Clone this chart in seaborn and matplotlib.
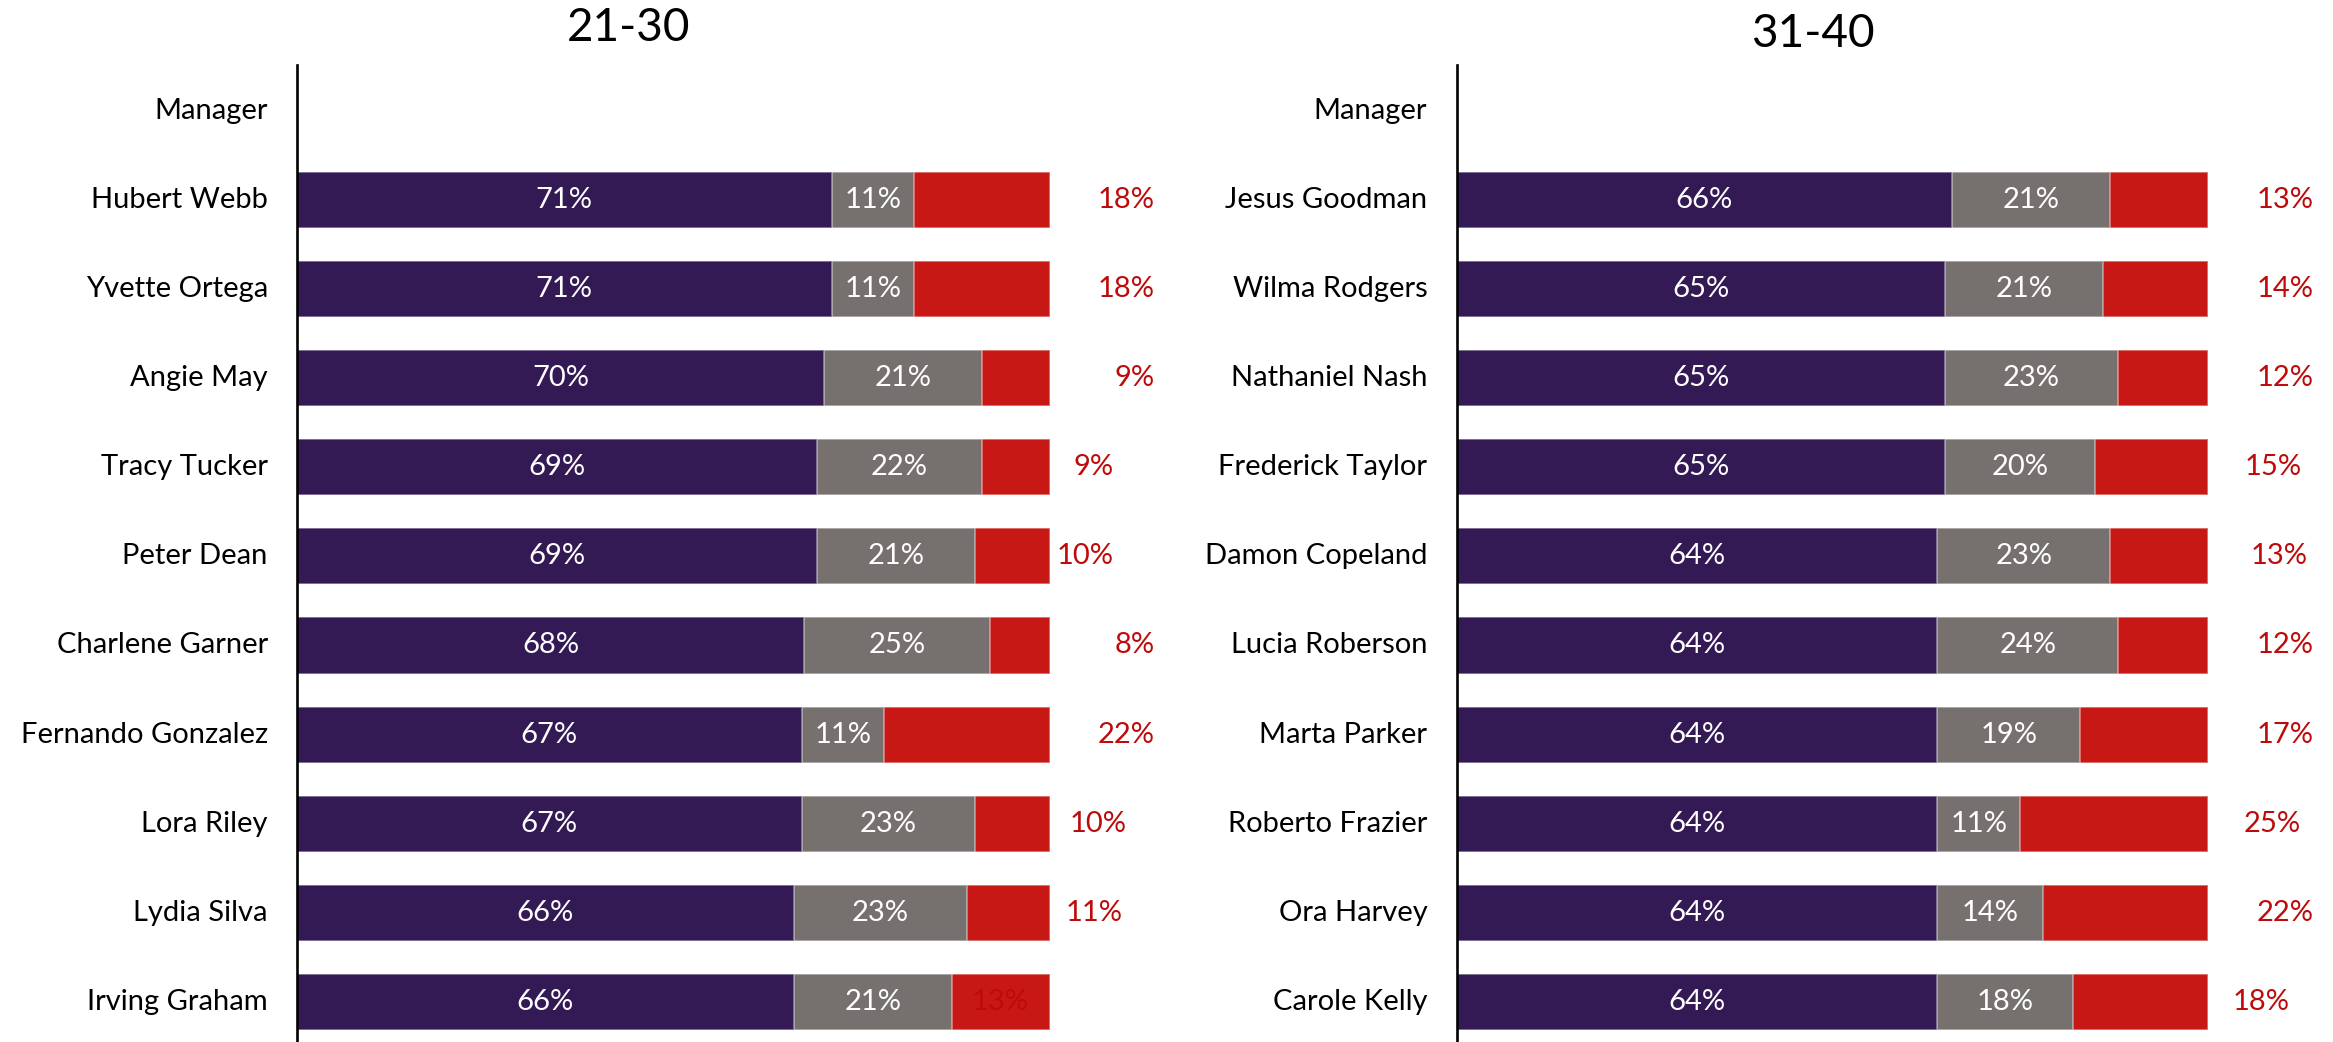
import matplotlib
matplotlib.use("Agg")
import matplotlib.pyplot as plt
import seaborn as sns
import pandas as pd

sns.set_theme(style="white")
plt.rcParams["font.family"] = ["Lato", "DejaVu Sans"]

# ---- data ---------------------------------------------------------------
header = "Manager"

managers_2130 = ["Hubert Webb", "Yvette Ortega", "Angie May", "Tracy Tucker",
                 "Peter Dean", "Charlene Garner", "Fernando Gonzalez",
                 "Lora Riley", "Lydia Silva", "Irving Graham"]
positive_2130 = [71, 71, 70, 69, 69, 68, 67, 67, 66, 66]
neutral_2130 = [11, 11, 21, 22, 21, 25, 11, 23, 23, 21]
negative_2130 = [18, 18, 9, 9, 10, 8, 22, 10, 11, 13]

managers_3140 = ["Jesus Goodman", "Wilma Rodgers", "Nathaniel Nash",
                 "Frederick Taylor", "Damon Copeland", "Lucia Roberson",
                 "Marta Parker", "Roberto Frazier", "Ora Harvey", "Carole Kelly"]
positive_3140 = [66, 65, 65, 65, 64, 64, 64, 64, 64, 64]
neutral_3140 = [21, 21, 23, 20, 23, 24, 19, 11, 14, 18]
negative_3140 = [13, 14, 12, 15, 13, 12, 17, 25, 22, 18]

# right edge (in % units) of the negative-share annotations
neg_label_x_2130 = [113.9, 113.9, 113.9, 108.5, 108.4, 113.9, 113.9, 110.2, 109.6, 97.1]
neg_label_x_3140 = [114.1, 114.1, 114.1, 112.5, 113.2, 114.1, 114.1, 112.4, 114.1, 110.9]

titles = ["21-30", "31-40"]

# ---- style --------------------------------------------------------------
PURPLE = "#341a54"
GREY = "#76716f"
RED = "#c81815"
RED_TEXT = "#bd0b0b"
EDGE = (1, 1, 1, 0.45)

W, H = 2333, 1042
fig = plt.figure(figsize=(W / 100, H / 100), dpi=100)
ax_top = 1 - 65 / H
ax1 = fig.add_axes([297 / W, 0, 753 / W, ax_top])
ax2 = fig.add_axes([1456.5 / W, 0, 751.5 / W, ax_top])


def draw_panel(ax, names, pos, neu, neg, label_x):
    df = pd.DataFrame({"name": names, "pos": pos, "neu": neu, "neg": neg})
    total = df[["pos", "neu", "neg"]].sum(axis=1)
    df["pos_s"] = df["pos"] / total * 100
    df["neu_s"] = df["neu"] / total * 100
    df["neg_s"] = df["neg"] / total * 100
    df["cum_neu"] = df["pos_s"] + df["neu_s"]
    df["cum_all"] = df["cum_neu"] + df["neg_s"]

    order = [header] + names
    common = dict(y="name", order=order, orient="h", width=0.63,
                  saturation=1, linewidth=1.2, edgecolor=EDGE, ax=ax, errorbar=None)
    sns.barplot(data=df, x="cum_all", color=RED, **common)
    sns.barplot(data=df, x="cum_neu", color=GREY, **common)
    sns.barplot(data=df, x="pos_s", color=PURPLE, **common)

    for i, r in df.iterrows():
        y = order.index(r["name"])
        ax.text(r["pos_s"] / 2, y, f"{r['pos']}%", ha="center", va="center",
                color="white", fontsize=21)
        ax.text(r["pos_s"] + r["neu_s"] / 2, y, f"{r['neu']}%", ha="center",
                va="center", color="white", fontsize=21)
        ax.text(label_x[i], y, f"{r['neg']}%", ha="right", va="center",
                color=RED_TEXT, fontsize=21, clip_on=False, zorder=5)

    ax.set_xlim(0, 100)
    ax.set_ylim(10.45, -0.515)
    ax.set_yticks(range(len(order)))
    ax.set_yticklabels(order, fontsize=21, color="black", va="center")
    ax.tick_params(axis="y", length=0, pad=21)
    ax.set_xticks([])
    ax.set_xlabel("")
    ax.set_ylabel("")
    for side in ["top", "right", "bottom"]:
        ax.spines[side].set_visible(False)
    ax.spines["left"].set_color("black")
    ax.spines["left"].set_linewidth(1.9)


draw_panel(ax1, managers_2130, positive_2130, neutral_2130, negative_2130, neg_label_x_2130)
draw_panel(ax2, managers_3140, positive_3140, neutral_3140, negative_3140, neg_label_x_3140)

fig.text(629 / W, 1 - 28 / H, titles[0], ha="center", va="center", fontsize=33, color="black")
fig.text(1813 / W, 1 - 34 / H, titles[1], ha="center", va="center", fontsize=33, color="black")

fig.savefig("out.png", dpi=100, facecolor="white")
